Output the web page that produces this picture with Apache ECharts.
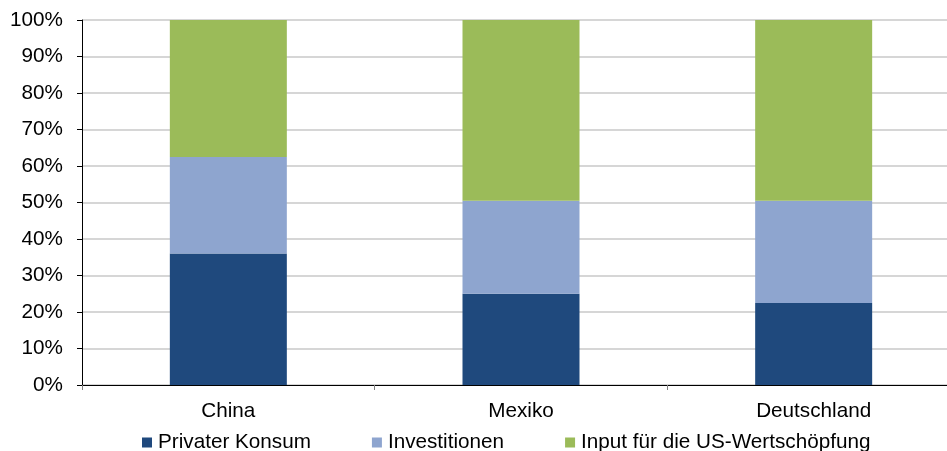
<!DOCTYPE html>
<html>
<head>
<meta charset="utf-8">
<script src="https://cdn.jsdelivr.net/npm/echarts@6/dist/echarts.min.js"></script>
<style>html,body{margin:0;padding:0;background:#fff;overflow:hidden;width:947px;height:451px}#c{width:960px;height:451px}</style>
</head>
<body>
<div id="c"></div>
<script>
const categories = ['China', 'Mexiko', 'Deutschland'];
const seriesNames = ['Privater Konsum', 'Investitionen', 'Input für die US-Wertschöpfung'];
const privaterKonsum = [36, 25, 22.5];
const investitionen = [26.5, 25.5, 28];
const inputUS = [37.5, 49.5, 49.5];
const yTicks = [0, 10, 20, 30, 40, 50, 60, 70, 80, 90, 100];

const colors = ['#1f497d', '#8ea5cf', '#9bbb59'];
const font = 'Liberation Sans, Arial, sans-serif';
const fs = 20.7;

const chart = echarts.init(document.getElementById('c'), null, {renderer: 'canvas'});
const values = [privaterKonsum, investitionen, inputUS];
chart.setOption({
  animation: false,
  color: colors,
  grid: {left: 82, top: 20, right: 0, bottom: 66, containLabel: false},
  legend: {
    data: seriesNames,
    left: 137, top: 427,
    itemWidth: 10, itemHeight: 10, itemGap: 61,
    icon: 'rect',
    textStyle: {fontFamily: font, fontSize: fs, color: '#000', padding: [0, 0, 0, 1]}
  },
  xAxis: {
    type: 'category',
    data: categories,
    axisLine: {lineStyle: {color: '#000', width: 1}},
    axisTick: {show: true, length: 5, alignWithLabel: false, lineStyle: {color: '#808080'}},
    axisLabel: {fontFamily: font, fontSize: fs, color: '#000', margin: 16}
  },
  yAxis: {
    type: 'value',
    min: yTicks[0], max: yTicks[yTicks.length - 1], interval: 10,
    axisLine: {show: true, lineStyle: {color: '#000', width: 1}},
    axisTick: {show: true, length: 5, lineStyle: {color: '#000'}},
    axisLabel: {fontFamily: font, fontSize: fs, color: '#000', margin: 19, formatter: v => v + '%'},
    splitLine: {lineStyle: {color: '#c8c8c8', width: 1.5}}
  },
  series: seriesNames.map((n, i) => ({
    name: n,
    type: 'bar',
    stack: 'total',
    barWidth: 117,
    data: values[i],
    itemStyle: {color: colors[i]}
  }))
});
</script>
</body>
</html>
